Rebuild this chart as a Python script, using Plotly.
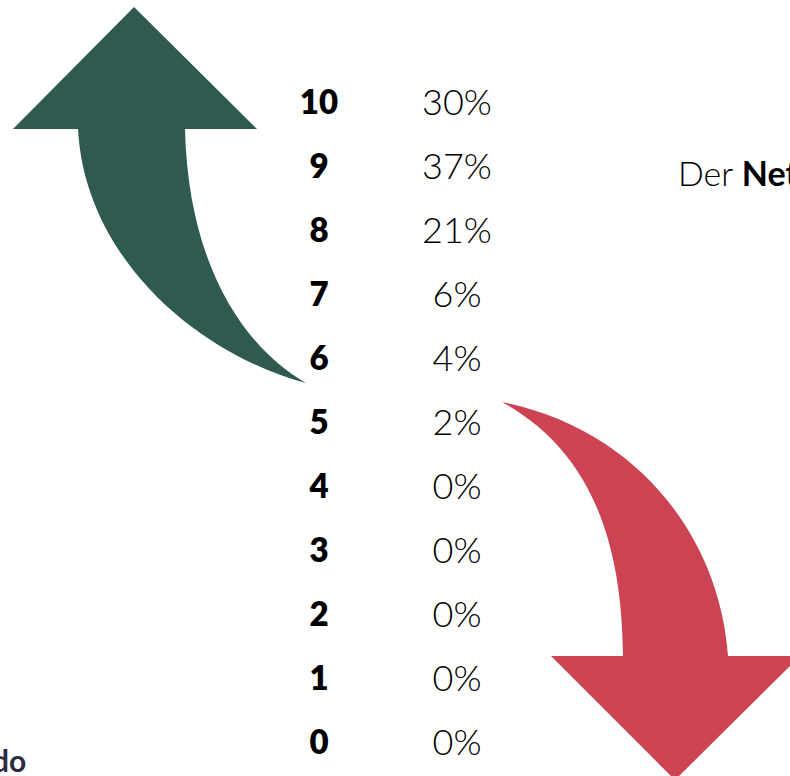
import plotly.graph_objects as go

# NPS answer scale and share of respondents
scores = [10, 9, 8, 7, 6, 5, 4, 3, 2, 1, 0]
shares = [30, 37, 21, 6, 4, 2, 0, 0, 0, 0, 0]
share_labels = [f"{s}%" for s in shares]

GREEN = "#2E5A52"
RED = "#CC4354"

fig = go.Figure()

# score column (bold)
fig.add_trace(go.Scatter(
    x=[319] * len(scores), y=scores, mode="text",
    text=[str(s) for s in scores],
    textfont=dict(family="Lato", size=33, color="#000000", weight=800),
    hoverinfo="skip", showlegend=False,
))

# percentage column (light)
fig.add_trace(go.Scatter(
    x=[457] * len(scores), y=scores, mode="text",
    text=share_labels,
    textfont=dict(family="Lato", size=36, color="#000000", weight=300),
    hoverinfo="skip", showlegend=False,
))

# decorative arrows, drawn on a pixel-sized overlay axis
green_arrow = ("M 306 383 C 200 355 85 260 78 129 L 13 129 L 134 7 L 257 129 "
               "L 185 129 C 188 260 240 345 306 383 Z")
red_arrow = ("M 502 402 C 640 430 720 540 728 656 L 800 656 L 675 780 L 551 656 "
             "L 623 656 C 622 540 590 450 502 402 Z")
for path, col in [(green_arrow, GREEN), (red_arrow, RED)]:
    fig.add_shape(type="path", path=path, xref="x2", yref="y2",
                  fillcolor=col, line=dict(width=0), layer="below")

fig.add_annotation(
    x=676, y=172, xref="x2", yref="y2", xanchor="left", yanchor="middle",
    text="Der <b>Net Promoter Score</b>", showarrow=False,
    font=dict(family="Lato", size=34, color="#000000", weight=300),
)
fig.add_annotation(
    x=28, y=760, xref="x2", yref="y2", xanchor="right", yanchor="middle",
    text="<b>Methodo</b>", showarrow=False,
    font=dict(family="Lato", size=30, color="#2B2D42"),
)

fig.update_layout(
    width=790, height=776,
    margin=dict(l=0, r=0, t=0, b=0),
    paper_bgcolor="white", plot_bgcolor="white",
    xaxis=dict(range=[0, 790], visible=False, fixedrange=True),
    yaxis=dict(range=[-0.469, 11.656], visible=False, fixedrange=True),
    xaxis2=dict(range=[0, 790], visible=False, overlaying="x", fixedrange=True),
    yaxis2=dict(range=[776, 0], visible=False, overlaying="y", fixedrange=True),
)

fig.write_html("out.html", config={"displayModeBar": False},
               post_script="document.body.style.margin = '0';")
